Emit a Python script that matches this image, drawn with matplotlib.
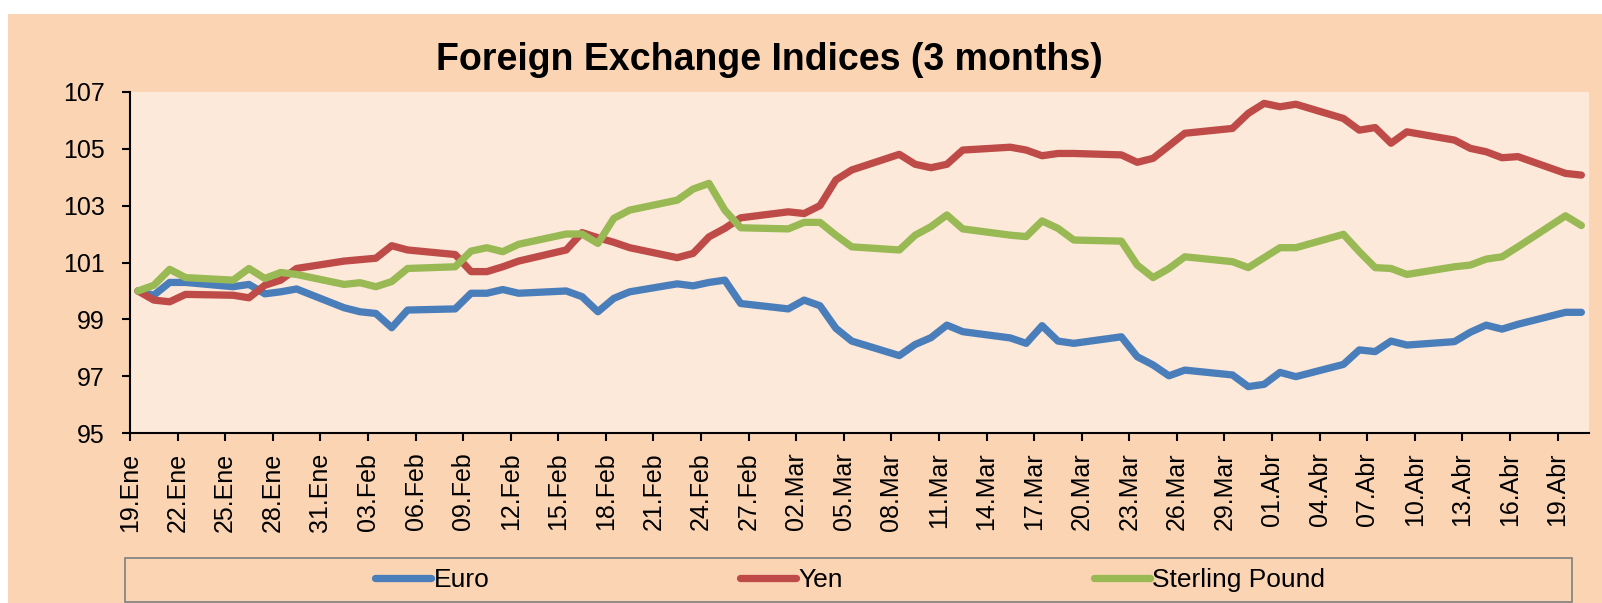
import matplotlib.pyplot as plt
from matplotlib.patches import Rectangle
import pandas as pd

plt.rcParams['font.family'] = ['Liberation Sans', 'DejaVu Sans']

# business days shown on the chart
dates = pd.bdate_range("2021-01-19", "2021-04-20")

euro = [100.0, 99.85, 100.3, 100.3, 100.15, 100.23, 99.9, 99.97, 100.07,
        99.41, 99.27, 99.21, 98.71, 99.33,
        99.37, 99.92, 99.92, 100.05, 99.92,
        100.0, 99.8, 99.27, 99.74, 99.97,
        100.25, 100.18, 100.3, 100.38, 99.56,
        99.37, 99.68, 99.48, 98.69, 98.24,
        97.73, 98.12, 98.36, 98.8, 98.57,
        98.35, 98.16, 98.78, 98.24, 98.16,
        98.39, 97.69, 97.4, 97.02, 97.22,
        97.05, 96.64, 96.72, 97.14, 96.99,
        97.42, 97.93, 97.87, 98.24, 98.1,
        98.22, 98.55, 98.8, 98.66, 98.83,
        99.25, 99.25]

yen = [100.0, 99.68, 99.62, 99.88, 99.85, 99.76, 100.2, 100.38, 100.79,
       101.05, 101.1, 101.15, 101.59, 101.44,
       101.28, 100.68, 100.68, 100.85, 101.05,
       101.44, 102.05, 101.87, 101.71, 101.52,
       101.17, 101.32, 101.9, 102.2, 102.57,
       102.78, 102.72, 103.0, 103.9, 104.25,
       104.8, 104.45, 104.33, 104.45, 104.95,
       105.05, 104.95, 104.75, 104.83, 104.83,
       104.78, 104.52, 104.66, 105.1, 105.54,
       105.71, 106.24, 106.59, 106.47, 106.56,
       106.06, 105.65, 105.74, 105.19, 105.59,
       105.3, 105.01, 104.89, 104.68, 104.72,
       104.13, 104.07]

sterling = [100.0, 100.2, 100.76, 100.47, 100.38, 100.79, 100.44, 100.65, 100.58,
            100.23, 100.29, 100.15, 100.33, 100.79,
            100.85, 101.4, 101.52, 101.38, 101.64,
            102.0, 102.0, 101.67, 102.55, 102.84,
            103.19, 103.58, 103.78, 102.84, 102.22,
            102.18, 102.41, 102.41, 101.96, 101.55,
            101.44, 101.96, 102.26, 102.67, 102.18,
            101.96, 101.91, 102.46, 102.2, 101.79,
            101.75, 100.91, 100.47, 100.79, 101.2,
            101.03, 100.82, 101.17, 101.52, 101.52,
            101.99, 101.38, 100.82, 100.79, 100.58,
            100.85, 100.91, 101.12, 101.2, 101.55,
            102.64, 102.3]

tick_dates = pd.date_range("2021-01-19", "2021-04-19", freq="3D")
month_names = {1: "Ene", 2: "Feb", 3: "Mar", 4: "Abr"}
tick_labels = [f"{d.day:02d}.{month_names[d.month]}" for d in tick_dates]

W, H = 1602, 603
fig = plt.figure(figsize=(W / 100, H / 100), dpi=100, facecolor="white")

# chart area background
fig.patches.append(Rectangle((8 / W, 0), (W - 8) / W, (H - 14) / H,
                             transform=fig.transFigure, facecolor="#fbd4b4",
                             edgecolor="none", zorder=-2))

ax = fig.add_axes([130 / W, 1 - 433.3 / H, (1589.3 - 130) / W, (433.3 - 91.7) / H])
ax.set_facecolor("#fde9d9")

x = dates + pd.Timedelta(hours=12)
style = dict(lw=5.25, solid_joinstyle="round", solid_capstyle="round")
ax.plot(x, euro, color="#4a7ebb", label="Euro", **style)
ax.plot(x, yen, color="#be4b48", label="Yen", **style)
ax.plot(x, sterling, color="#98b954", label="Sterling Pound", **style)

ax.set_ylim(95, 107)
ax.set_yticks(range(95, 108, 2))
ax.set_xlim(pd.Timestamp("2021-01-19"), pd.Timestamp("2021-04-21"))
ax.set_xticks(tick_dates)
ax.set_xticklabels(tick_labels, rotation=90)

for side in ["top", "right"]:
    ax.spines[side].set_visible(False)
for side in ["left", "bottom"]:
    ax.spines[side].set_linewidth(1.5)
ax.tick_params(axis="both", direction="out", length=6, width=1.5, labelsize=18)
ax.tick_params(axis="y", pad=12)
ax.tick_params(axis="x", pad=8)

fig.text(769 / W, 1 - 70 / H, "Foreign Exchange Indices (3 months)",
         ha="center", va="baseline", fontsize=27, fontweight="bold")

# legend box
fig.patches.append(Rectangle((125 / W, 1 - 602 / H), (1572 - 125) / W, (602 - 558) / H,
                             transform=fig.transFigure, facecolor="none",
                             edgecolor="#7f7f7f", lw=1.2))
fig.legend(loc="center", bbox_to_anchor=(850 / W, 1 - 580 / H), ncol=3,
           frameon=False, fontsize=19, handlelength=2.12, handletextpad=0.1,
           columnspacing=9.5)

fig.savefig("out.png", dpi=100)
